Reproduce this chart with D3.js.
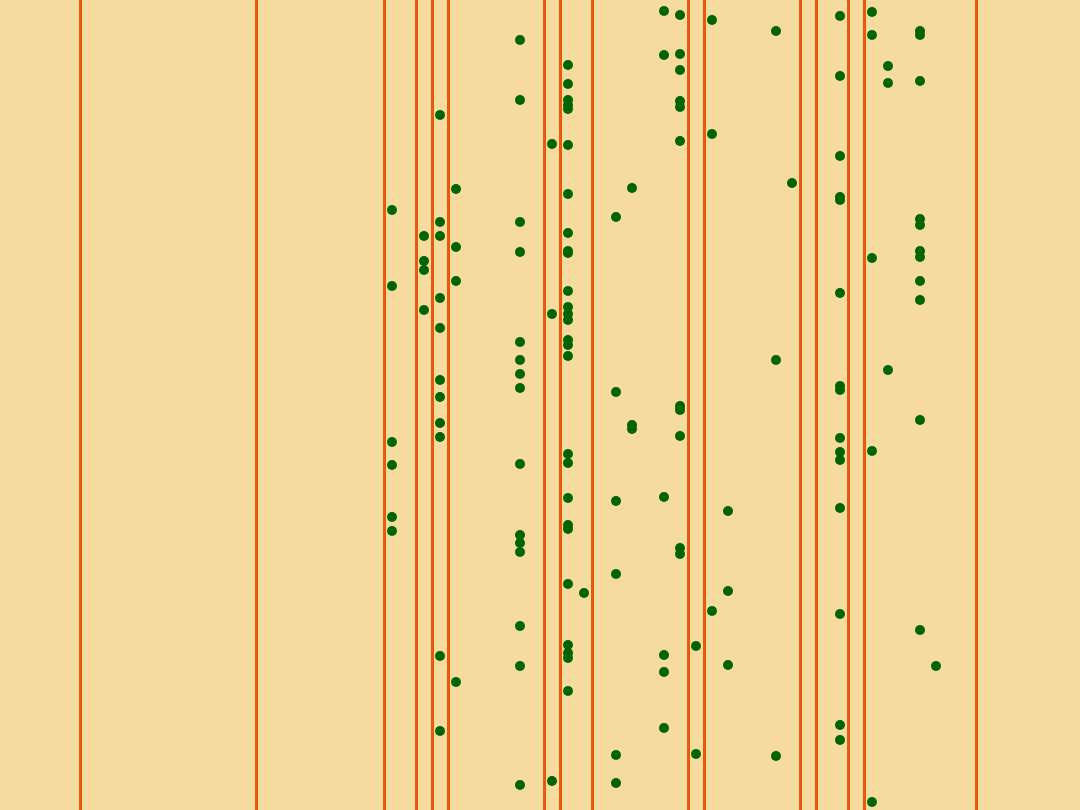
<!DOCTYPE html>
<html>
<head>
<meta charset="utf-8">
<script src="https://cdn.jsdelivr.net/npm/d3@7"></script>
<style>
html,body{margin:0;padding:0;background:#f5dba0;}
svg{display:block;}
</style>
</head>
<body>
<svg id="chart" width="1080" height="810"></svg>
<script>
// Vertical rule positions (column units)
const linePositions = [5, 16, 24, 26, 27, 28, 34, 35, 37, 43, 44, 50, 51, 53, 54, 61];

// Dot columns (column units) and their y values (0 at top)
const dotColumns = [24.5, 26.5, 27.5, 28.5, 32.5, 34.5, 35.5, 36.5, 38.5, 39.5, 41.5, 42.5, 43.5, 44.5, 45.5, 48.5, 49.5, 52.5, 54.5, 55.5, 57.5, 58.5];
const dotValues = [
  [209, 285, 441, 464, 516, 530],
  [235, 260, 269, 309],
  [114, 221, 235, 297, 327, 379, 396, 422, 436, 655, 730],
  [188, 246, 280, 681],
  [39, 99, 221, 251, 341, 359, 373, 387, 463, 534, 542, 551, 625, 665, 784],
  [143, 313, 780],
  [64, 83, 99, 104, 108, 144, 193, 232, 250, 252, 290, 306, 313, 319, 339, 344, 355, 453, 462, 497, 524, 528, 583, 644, 652, 657, 690],
  [592],
  [216, 391, 500, 573, 754, 782],
  [187, 424, 428],
  [10, 54, 496, 654, 671, 727],
  [14, 53, 69, 100, 106, 140, 405, 409, 435, 547, 553],
  [645, 753],
  [19, 133, 610],
  [510, 590, 664],
  [30, 359, 755],
  [182],
  [15, 75, 155, 196, 199, 292, 385, 389, 437, 451, 459, 507, 613, 724, 739],
  [11, 34, 257, 450, 801],
  [65, 82, 369],
  [30, 34, 80, 218, 224, 250, 256, 280, 299, 419, 629],
  [665]
];

const W = 1080, H = 810;
const svg = d3.select("#chart");
const x = d3.scaleLinear().domain([0, 67.5]).range([0, W]);
const y = d3.scaleLinear().domain([0, 810]).range([1, H + 1]);

svg.append("rect").attr("width", W).attr("height", H).attr("fill", "#f5dba0");

svg.append("g").selectAll("line").data(linePositions).join("line")
  .attr("x1", d => x(d) + 0.5).attr("x2", d => x(d) + 0.5)
  .attr("y1", 0).attr("y2", H)
  .attr("stroke", "#e8590c").attr("stroke-width", 3);

const dots = [];
dotColumns.forEach((c, i) => dotValues[i].forEach(v => dots.push({c, v})));

svg.append("g").selectAll("circle").data(dots).join("circle")
  .attr("cx", d => x(d.c)).attr("cy", d => y(d.v))
  .attr("r", 5).attr("fill", "#006400");
</script>
</body>
</html>
